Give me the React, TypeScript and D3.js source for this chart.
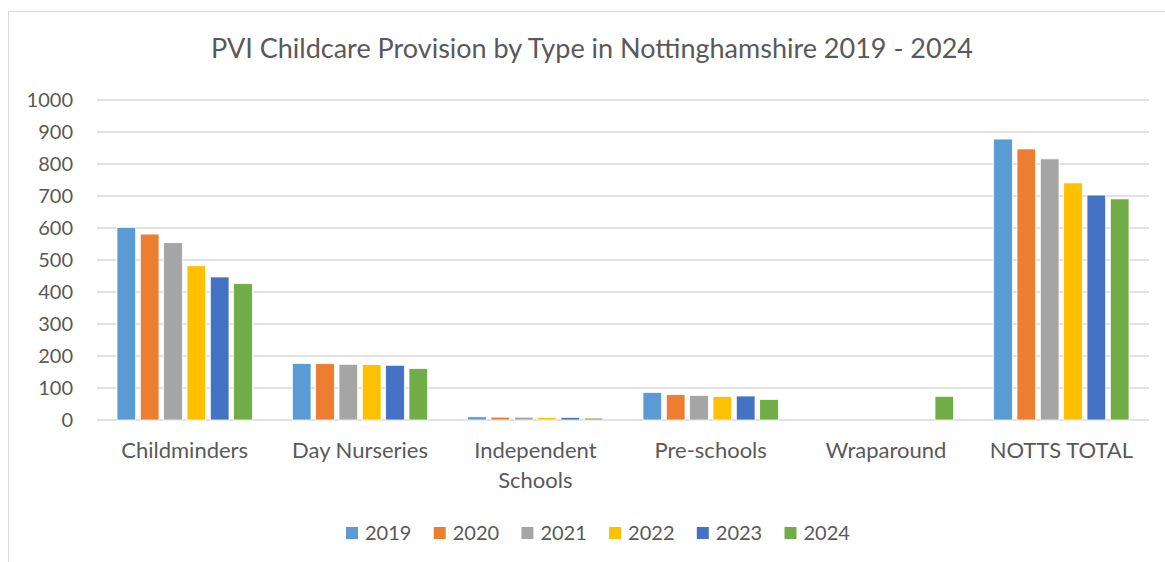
import React from "react";
import * as d3 from "d3";

const categories = ["Childminders", "Day Nurseries", "Independent Schools", "Pre-schools", "Wraparound", "NOTTS TOTAL"];
const years = ["2019", "2020", "2021", "2022", "2023", "2024"];
const colors = ["#5B9BD5", "#ED7D31", "#A5A5A5", "#FFC000", "#4472C4", "#70AD47"];
// values[series][category]
const v2019 = [602, 177, 10, 86, 0, 878];
const v2020 = [581, 176, 9, 79, 0, 847];
const v2021 = [554, 174, 9, 77, 0, 816];
const v2022 = [482, 173, 8, 73, 0, 741];
const v2023 = [447, 171, 8, 75, 0, 703];
const v2024 = [426, 161, 6, 64, 74, 691];
const seriesValues = [v2019, v2020, v2021, v2022, v2023, v2024];
const yTicks = [0, 100, 200, 300, 400, 500, 600, 700, 800, 900, 1000];

const W = 1165;
const H = 562;
const FONT = "Lato, 'Open Sans', sans-serif";
const TXT = "#595959";

export default function App() {
  const x0 = d3.scaleBand<string>().domain(categories).range([97, 1149]).padding(0);
  const bw = x0.bandwidth();
  const x1 = d3.scaleBand<string>().domain(years).range([20, bw - 20]).paddingInner(0.2).paddingOuter(0);
  const y = d3.scaleLinear().domain([0, 1000]).range([420, 100]);

  const labelLines = (c: string) => (c === "Independent Schools" ? ["Independent", "Schools"] : [c]);

  return (
    <svg width={W} height={H} style={{ position: "absolute", left: 0, top: 0, background: "#fff" }} fontFamily={FONT}>
      <rect x={8.5} y={11.5} width={W + 20} height={H + 20} fill="#fff" stroke="#d9d9d9" strokeWidth={1} />
      <text x={592} y={58} textAnchor="middle" fontSize={27} fill={TXT}>
        PVI Childcare Provision by Type in Nottinghamshire 2019 - 2024
      </text>
      {yTicks.map((t) => (
        <g key={t}>
          <line x1={97} x2={1149} y1={y(t)} y2={y(t)} stroke="#d9d9d9" strokeWidth={1.5} />
          <text x={73} y={y(t)} dy="0.36em" textAnchor="end" fontSize={20} fill={TXT}>
            {t}
          </text>
        </g>
      ))}
      {seriesValues.map((vals, si) => (
        <g key={years[si]}>
          {vals.map((v, ci) =>
            v > 0 ? (
              <rect
                key={ci}
                x={(x0(categories[ci]) as number) + (x1(years[si]) as number)}
                y={y(v)}
                width={x1.bandwidth()}
                height={y(0) - y(v)}
                fill={colors[si]}
                stroke="#fff"
                strokeWidth={0.75}
              />
            ) : null
          )}
        </g>
      ))}
      {categories.map((c) => (
        <text key={c} x={(x0(c) as number) + bw / 2} textAnchor="middle" fontSize={22} fill={TXT}>
          {labelLines(c).map((ln, i) => (
            <tspan key={i} x={(x0(c) as number) + bw / 2} y={458 + i * 30}>
              {ln}
            </tspan>
          ))}
        </text>
      ))}
      {years.map((yr, i) => {
        const lx = 346 + i * 87.7;
        return (
          <g key={yr}>
            <rect x={lx} y={527} width={12} height={12} fill={colors[i]} />
            <text x={lx + 19} y={533} dy="0.36em" fontSize={20} fill={TXT}>
              {yr}
            </text>
          </g>
        );
      })}
    </svg>
  );
}
